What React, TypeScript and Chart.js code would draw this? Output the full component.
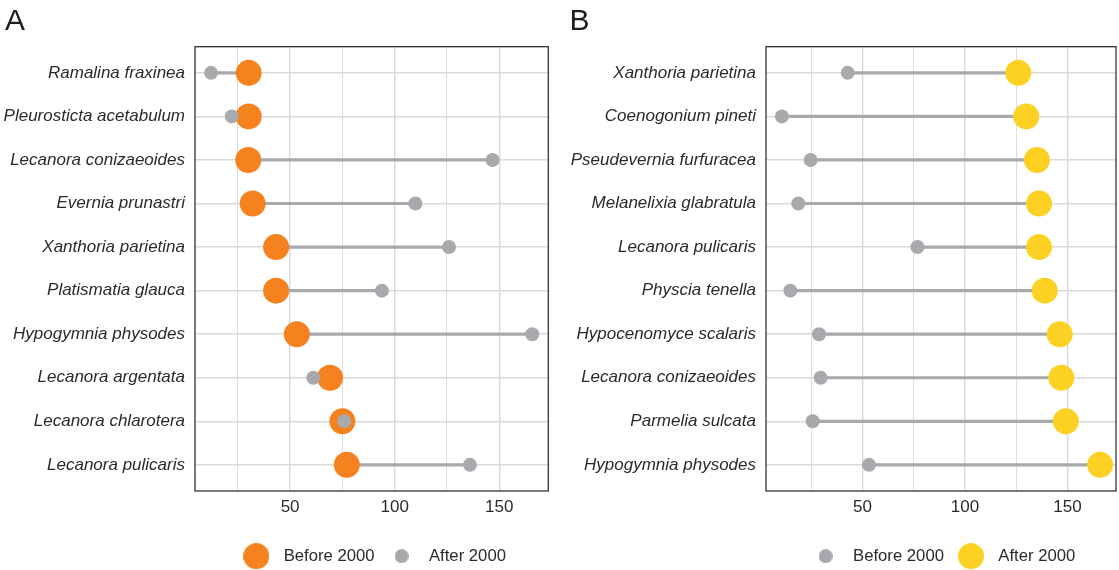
import React, { useEffect, useRef } from 'react';
import { Chart, registerables } from 'chart.js';

Chart.register(...registerables);

// ---------- data ----------
const speciesA = [
  'Ramalina fraxinea',
  'Pleurosticta acetabulum',
  'Lecanora conizaeoides',
  'Evernia prunastri',
  'Xanthoria parietina',
  'Platismatia glauca',
  'Hypogymnia physodes',
  'Lecanora argentata',
  'Lecanora chlarotera',
  'Lecanora pulicaris',
];
const beforeA = [30.2, 30.2, 30.0, 32.1, 43.3, 43.3, 53.2, 69.1, 75.0, 77.1];
const afterA = [12.2, 22.1, 146.8, 109.9, 126.0, 93.9, 165.8, 61.1, 75.9, 136.0];

const speciesB = [
  'Xanthoria parietina',
  'Coenogonium pineti',
  'Pseudevernia furfuracea',
  'Melanelixia glabratula',
  'Lecanora pulicaris',
  'Physcia tenella',
  'Hypocenomyce scalaris',
  'Lecanora conizaeoides',
  'Parmelia sulcata',
  'Hypogymnia physodes',
];
const beforeB = [42.8, 10.7, 24.7, 18.7, 76.8, 14.8, 28.8, 29.6, 25.7, 53.2];
const afterB = [126.0, 129.9, 135.1, 136.1, 136.1, 138.9, 146.2, 147.0, 149.2, 165.9];

const xTickLabels = [50, 100, 150];
const legendLabels = ['Before 2000', 'After 2000'];

// ---------- styles ----------
const ORANGE = '#F5821F';
const YELLOW = '#FDD123';
const GREY = '#A7A9AC';
const TEXT = '#2a2a2a';
const GRID = '#d9d9d9';
const FONT = "'Liberation Sans', Arial, Helvetica, sans-serif";
const BIG_R = 13;
const SMALL_R = 7;

function dot(color: string, r: number): HTMLCanvasElement {
  const s = Math.ceil(r * 2);
  const c = document.createElement('canvas');
  c.width = s;
  c.height = s;
  const ctx = c.getContext('2d')!;
  ctx.fillStyle = color;
  ctx.beginPath();
  ctx.arc(s / 2, s / 2, r, 0, Math.PI * 2);
  ctx.fill();
  return c;
}

const framePlugin = {
  id: 'frame',
  afterDatasetsDraw(chart: any) {
    const { ctx, chartArea: a } = chart;
    ctx.save();
    ctx.strokeStyle = '#333333';
    ctx.lineWidth = 1.3;
    ctx.strokeRect(a.left, a.top, a.right - a.left, a.bottom - a.top);
    ctx.restore();
  },
};

interface PanelSpec {
  species: string[];
  before: number[];
  after: number[];
  bigIs: 'before' | 'after';
  bigColor: string;
  yAxisWidth: number;
  padRight: number;
}

function buildConfig(p: PanelSpec): any {
  const all = [...p.before, ...p.after];
  const lo = Math.min(...all);
  const hi = Math.max(...all);
  const ex = (hi - lo) * 0.05;
  const rows = p.species.map((_, i) => i + 1);
  const segs = rows.flatMap((y, i) => [
    { x: p.before[i], y },
    { x: p.after[i], y },
  ]);
  const bigVals = p.bigIs === 'before' ? p.before : p.after;
  const smallVals = p.bigIs === 'before' ? p.after : p.before;

  const bigDot = dot(p.bigColor, BIG_R);
  const smallDot = dot(GREY, SMALL_R);
  const legendDots = p.bigIs === 'before' ? [bigDot, smallDot] : [smallDot, bigDot];

  const isMajor = (v: number) => xTickLabels.some((t) => Math.abs(t - v) < 1e-6);

  return {
    type: 'scatter',
    data: {
      datasets: [
        {
          label: 'small',
          data: rows.map((y, i) => ({ x: smallVals[i], y })),
          pointRadius: SMALL_R,
          pointHoverRadius: SMALL_R,
          backgroundColor: GREY,
          pointBorderWidth: 0,
          borderWidth: 0,
          order: 0,
          clip: false,
        },
        {
          label: 'big',
          data: rows.map((y, i) => ({ x: bigVals[i], y })),
          pointRadius: BIG_R,
          pointHoverRadius: BIG_R,
          backgroundColor: p.bigColor,
          pointBorderWidth: 0,
          borderWidth: 0,
          order: 1,
          clip: false,
        },
        {
          label: 'segments',
          data: segs,
          showLine: true,
          pointRadius: 0,
          pointHoverRadius: 0,
          borderColor: GREY,
          borderWidth: 3.2,
          tension: 0,
          segment: {
            borderColor: (ctx: any) =>
              ctx.p0.parsed.y === ctx.p1.parsed.y ? GREY : 'rgba(0,0,0,0)',
          },
          order: 2,
          clip: false,
        },
      ],
    },
    options: {
      responsive: false,
      animation: false,
      events: [],
      layout: {
        autoPadding: false,
        padding: { left: 0, right: p.padRight, top: 46.7, bottom: 0.5 },
      },
      scales: {
        x: {
          type: 'linear',
          min: lo - ex,
          max: hi + ex,
          border: { display: false },
          grid: {
            drawTicks: false,
            color: GRID,
            lineWidth: (ctx: any) => (ctx.tick && isMajor(ctx.tick.value) ? 1.4 : 0.9),
          },
          ticks: {
            stepSize: 25,
            includeBounds: false,
            autoSkip: false,
            maxRotation: 0,
            padding: 6,
            color: TEXT,
            font: { family: FONT, size: 17 },
            callback: (v: number) => (isMajor(v) ? String(v) : ''),
          },
          afterFit: (s: any) => {
            s.height = 48.8;
          },
        },
        y: {
          type: 'linear',
          reverse: true,
          min: 0.4,
          max: p.species.length + 0.6,
          border: { display: false },
          grid: { drawTicks: false, color: GRID, lineWidth: 1.4 },
          ticks: {
            stepSize: 1,
            includeBounds: false,
            autoSkip: false,
            padding: 10,
            color: TEXT,
            font: { family: FONT, size: 17, style: 'italic' },
            callback: (v: number) => p.species[Math.round(v) - 1] ?? '',
          },
          afterFit: (s: any) => {
            s.width = p.yAxisWidth;
          },
        },
      },
      plugins: {
        tooltip: { enabled: false },
        title: { display: false },
        legend: {
          display: true,
          position: 'bottom',
          fullSize: false,
          onClick: () => {},
          labels: {
            usePointStyle: true,
            pointStyleWidth: 38,
            padding: 8,
            color: TEXT,
            font: { family: FONT, size: 16.7 },
            generateLabels: () =>
              legendLabels.map((text, i) => ({
                text,
                pointStyle: legendDots[i],
                fillStyle: 'rgba(0,0,0,0)',
                strokeStyle: 'rgba(0,0,0,0)',
                lineWidth: 0,
                hidden: false,
                fontColor: TEXT,
                datasetIndex: i,
              })),
          },
        },
      },
    },
    plugins: [framePlugin],
  };
}

function Panel({ left, width, spec }: { left: number; width: number; spec: PanelSpec }) {
  const ref = useRef<HTMLCanvasElement | null>(null);
  useEffect(() => {
    const chart = new Chart(ref.current!, buildConfig(spec));
    return () => chart.destroy();
  }, []);
  return (
    <canvas
      ref={ref}
      width={width}
      height={575}
      style={{ position: 'absolute', left, top: 0, width, height: 575 }}
    />
  );
}

const letterStyle: React.CSSProperties = {
  position: 'absolute',
  top: 5,
  fontFamily: FONT,
  fontSize: 30,
  lineHeight: '30px',
  color: '#1e1e1e',
};

export default function App() {
  return (
    <div
      style={{
        position: 'absolute',
        left: 0,
        top: 0,
        width: 1119,
        height: 570,
        overflow: 'hidden',
        background: '#ffffff',
      }}
    >
      <Panel
        left={0}
        width={560}
        spec={{
          species: speciesA,
          before: beforeA,
          after: afterA,
          bigIs: 'before',
          bigColor: ORANGE,
          yAxisWidth: 195,
          padRight: 11.7,
        }}
      />
      <Panel
        left={560}
        width={559}
        spec={{
          species: speciesB,
          before: beforeB,
          after: afterB,
          bigIs: 'after',
          bigColor: YELLOW,
          yAxisWidth: 206,
          padRight: 3,
        }}
      />
      <div style={{ ...letterStyle, left: 5 }}>A</div>
      <div style={{ ...letterStyle, left: 569.5 }}>B</div>
    </div>
  );
}
